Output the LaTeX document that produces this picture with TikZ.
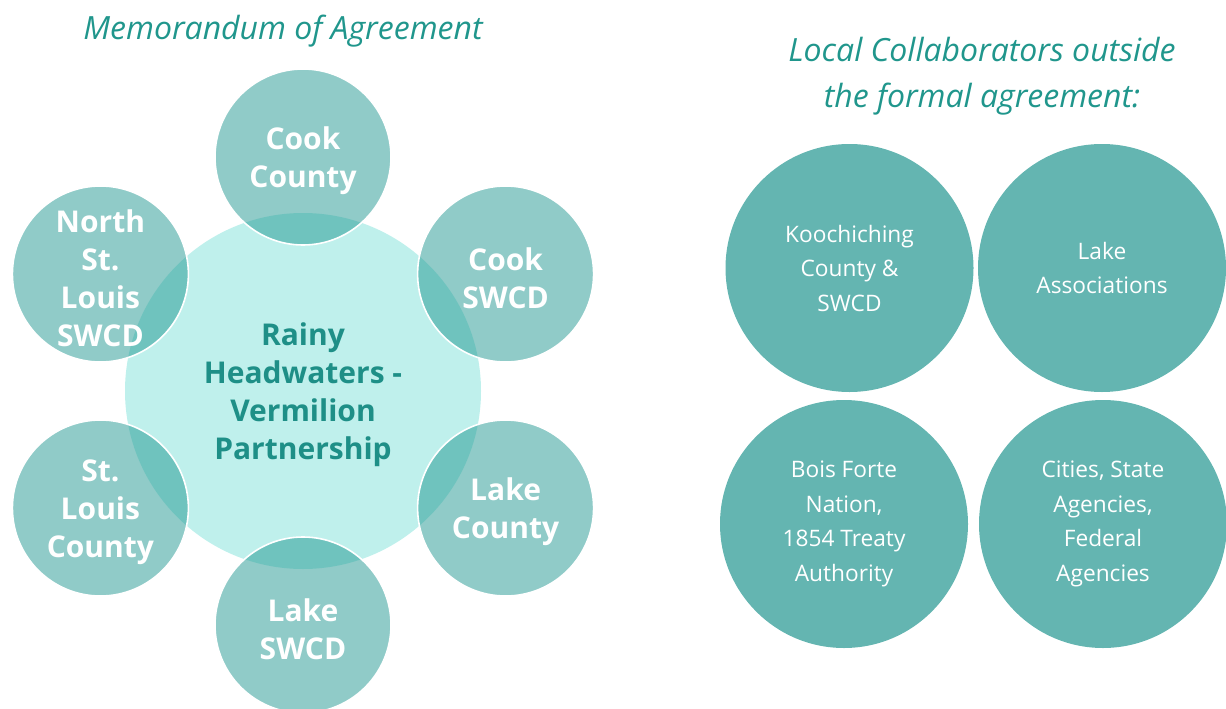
\documentclass[tikz,border=0pt]{standalone}
\usepackage{fontspec}
\setmainfont{Open Sans}
\definecolor{satfill}{HTML}{219791}
\definecolor{hubfill}{HTML}{BFF0EC}
\definecolor{hubtext}{HTML}{1E8F87}
\definecolor{titletext}{HTML}{20968C}
\definecolor{collab}{HTML}{64B5B1}
\tikzset{
  sat/.style={circle, minimum size=176pt, inner sep=0pt, fill=satfill, fill opacity=0.5, text opacity=1,
    draw=white, draw opacity=1, line width=1.6pt, text=white, align=center,
    font=\fontsize{30}{38}\selectfont\bfseries},
  hub/.style={circle, minimum size=356pt, inner sep=0pt, fill=hubfill, text=hubtext, align=center,
    font=\fontsize{30}{38}\selectfont\bfseries},
  satlabel/.style={text=white, align=center, inner sep=0pt, font=\fontsize{30}{38}\selectfont\bfseries, yshift=-4pt},
  hublabel/.style={text=hubtext, align=center, inner sep=0pt, font=\fontsize{30}{38}\selectfont\bfseries, yshift=-4pt},
  collabnode/.style={circle, minimum size=248pt, inner sep=0pt, fill=collab, text=white, align=center,
    font=\fontsize{22.7}{34.5}\selectfont},
  titlenode/.style={text=titletext, align=center, font=\fontsize{32}{46}\selectfont\itshape},
}
\begin{document}
\begin{tikzpicture}[x=1pt,y=-1pt]
\useasboundingbox (0,0) rectangle (1226,709);
\clip (0,0) rectangle (1226,709);
\node[titlenode] (moa) at (283,31) {Memorandum of Agreement};
\node[hub] (hub) at (303,391) {};
\node[hublabel] (hubt) at (hub.center) {Rainy\\Headwaters -\\Vermilion\\Partnership};
\node[sat] (cookc) at (303,157) {};
\node[sat] (cooks) at (505.6,274) {};
\node[sat] (lakec) at (505.6,508) {};
\node[sat] (lakes) at (303,625) {};
\node[sat] (stlc) at (100.4,508) {};
\node[sat] (nstl) at (100.4,274) {};
\node[satlabel] (cookct) at (cookc.center) {Cook\\County};
\node[satlabel] (cookst) at (cooks.center) {Cook\\SWCD};
\node[satlabel] (lakect) at (lakec.center) {Lake\\County};
\node[satlabel] (lakest) at (lakes.center) {Lake\\SWCD};
\node[satlabel] (stlct) at (stlc.center) {St.\\Louis\\County};
\node[satlabel] (nstlt) at (nstl.center) {North\\St.\\Louis\\SWCD};
\node[titlenode] (lct) at (982,76) {Local Collaborators outside\\the formal agreement:};
\node[collabnode] (koo) at (849.5,268) {Koochiching\\County \&\\SWCD};
\node[collabnode] (lka) at (1102,268) {Lake\\Associations};
\node[collabnode] (bfn) at (844,524) {Bois Forte\\Nation,\\1854 Treaty\\Authority};
\node[collabnode] (csa) at (1103,524) {Cities, State\\Agencies,\\Federal\\Agencies};
\end{tikzpicture}
\end{document}
